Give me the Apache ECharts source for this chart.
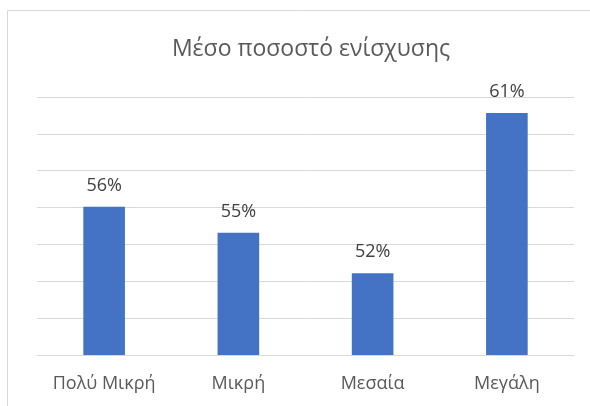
<!DOCTYPE html>
<html><head><meta charset="utf-8">
<script src="https://cdn.jsdelivr.net/npm/echarts@6/dist/echarts.min.js"></script>
<style>html,body{margin:0;padding:0;background:#fff}#c{width:590px;height:406px}</style>
</head><body><div id="c"></div>
<script>
const title = 'Μέσο ποσοστό ενίσχυσης';
const categories = ['Πολύ Μικρή', 'Μικρή', 'Μεσαία', 'Μεγάλη'];
const values = [56.05, 54.63, 52.44, 61.13];
const chart = echarts.init(document.getElementById('c'), null, {renderer: 'canvas'});
const font = 'Open Sans, Noto Sans, sans-serif';
chart.setOption({
  animation: false,
  backgroundColor: '#fff',
  title: {text: title, left: 306, textAlign: 'center', top: 33, textStyle: {fontFamily: font, fontSize: 23, fontWeight: 'normal', color: '#595959'}},
  graphic: [{type: 'rect', shape: {x: 7.5, y: 10.5, width: 700, height: 500}, style: {fill: 'none', stroke: '#d9d9d9', lineWidth: 1}, silent: true, z: -1}],
  grid: {left: 37, right: 16, top: 97, bottom: 51},
  xAxis: {type: 'category', data: categories,
    axisLine: {lineStyle: {color: '#d9d9d9'}}, axisTick: {show: false},
    axisLabel: {fontFamily: font, fontSize: 18, color: '#595959', margin: 20}},
  yAxis: {type: 'value', min: 48, max: 62, interval: 2,
    axisLabel: {show: false}, axisLine: {show: false}, axisTick: {show: false},
    splitLine: {lineStyle: {color: '#d9d9d9'}}},
  series: [{type: 'bar', data: values, barWidth: '31%', itemStyle: {color: '#4472C4'},
    label: {show: true, position: 'top', distance: 12, fontFamily: font, fontSize: 18, color: '#404040',
      formatter: p => Math.round(p.value) + '%'}}]
});
</script></body></html>
